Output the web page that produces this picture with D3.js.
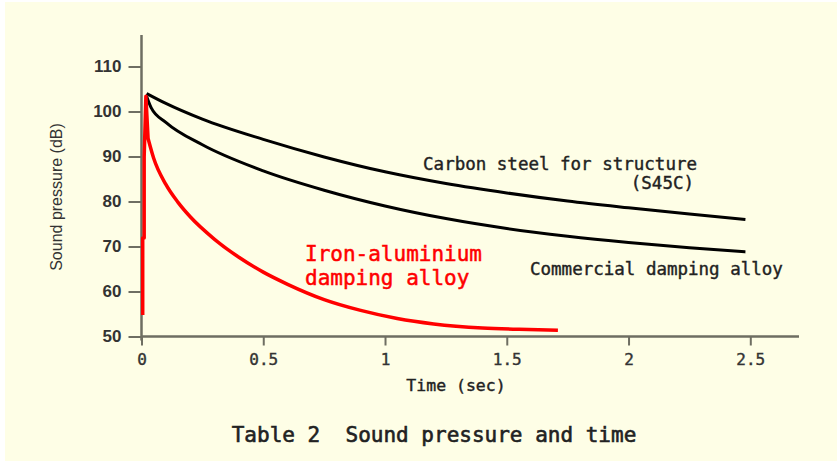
<!DOCTYPE html>
<html>
<head>
<meta charset="utf-8">
<script src="https://cdn.jsdelivr.net/npm/d3@7"></script>
<style>
  body { margin: 0; background: #fff; }
  svg { display: block; }
</style>
</head>
<body>
<svg id="chart" width="837" height="461"></svg>
<script>
// data: time (sec), sound pressure (dB)
var carbonT = [0.021, 0.1, 0.25, 0.5, 0.75, 1.0, 1.25, 1.5, 1.75, 2.0, 2.25, 2.48];
var carbonV = [104.0, 101.8, 98.3, 93.8, 89.9, 86.6, 84.0, 81.9, 80.1, 78.6, 77.2, 76.0];

var commT = [0.021, 0.04, 0.1, 0.25, 0.5, 0.75, 1.0, 1.25, 1.5, 1.75, 2.0, 2.25, 2.48];
var commV = [103.4, 100.8, 97.6, 92.6, 86.8, 82.5, 79.0, 76.2, 74.0, 72.3, 70.9, 69.7, 68.8];

// attack part (straight segments) then the decay
var ironRiseT = [0.005, 0.005, 0.011, 0.011, 0.018, 0.027];
var ironRiseV = [54.8, 71.9, 71.9, 90.0, 103.4, 94.0];
var ironT = [0.027, 0.05, 0.1, 0.15, 0.2, 0.3, 0.4, 0.5, 0.6, 0.75, 0.9, 1.05, 1.2, 1.4, 1.55, 1.71];
var ironV = [94.0, 89.6, 83.8, 79.8, 76.6, 71.6, 67.6, 64.3, 61.6, 58.2, 55.8, 54.0, 52.8, 51.9, 51.6, 51.4];

var xTicks = [0, 0.5, 1, 1.5, 2, 2.5];
var xTickLabels = ['0', '0.5', '1', '1.5', '2', '2.5'];
var yTicks = [50, 60, 70, 80, 90, 100, 110];

var svg = d3.select('#chart');

// cream paper
svg.append('rect')
    .attr('x', 5).attr('y', 2)
    .attr('width', 832).attr('height', 459)
    .attr('fill', '#fefee6');

var x = d3.scaleLinear().domain([0, 2.7]).range([141.5, 799]);
var y = d3.scaleLinear().domain([50, 117]).range([336.5, 35]);

var axisColor = '#6e6e62';

// axes lines
svg.append('line')
    .attr('x1', x(0)).attr('x2', x(0))
    .attr('y1', y(117)).attr('y2', y(50) + 4)
    .attr('stroke', axisColor).attr('stroke-width', 2.5);
svg.append('line')
    .attr('x1', x(0)).attr('x2', x(2.7))
    .attr('y1', y(50)).attr('y2', y(50))
    .attr('stroke', axisColor).attr('stroke-width', 2.5);

// y axis
var yAxis = svg.append('g')
    .attr('transform', 'translate(' + x(0) + ',0)')
    .call(d3.axisLeft(y).tickValues(yTicks).tickSize(13).tickPadding(7));
yAxis.select('.domain').remove();
yAxis.selectAll('line').attr('stroke', axisColor).attr('stroke-width', 2);
yAxis.selectAll('text')
    .attr('fill', '#333')
    .style('font-family', '"Liberation Sans", Arial, sans-serif')
    .style('font-size', '17px')
    .style('font-weight', 'bold');

// x axis
var xAxis = svg.append('g')
    .attr('transform', 'translate(0,' + y(50) + ')')
    .call(d3.axisBottom(x).tickValues(xTicks).tickSize(9).tickPadding(8)
        .tickFormat(function(d, i){ return xTickLabels[i]; }));
xAxis.select('.domain').remove();
xAxis.selectAll('line').attr('stroke', axisColor).attr('stroke-width', 2);
xAxis.selectAll('text')
    .attr('fill', '#333')
    .attr('stroke', '#333').attr('stroke-width', 0.4)
    .style('font-family', '"DejaVu Sans Mono", monospace')
    .style('font-size', '16px');

// curves
function pairs(ts, vs){
    return ts.map(function(t, i){ return [t, vs[i]]; });
}
var line = d3.line()
    .x(function(d){ return x(d[0]); })
    .y(function(d){ return y(d[1]); })
    .curve(d3.curveMonotoneX);
var lineLin = d3.line()
    .x(function(d){ return x(d[0]); })
    .y(function(d){ return y(d[1]); });

svg.append('path')
    .attr('d', line(pairs(carbonT, carbonV)))
    .attr('fill', 'none').attr('stroke', '#000').attr('stroke-width', 3);
svg.append('path')
    .attr('d', line(pairs(commT, commV)))
    .attr('fill', 'none').attr('stroke', '#000').attr('stroke-width', 3);

// red: sharp attack then decay
svg.append('path')
    .attr('d', lineLin(pairs(ironRiseT, ironRiseV)) + line(pairs(ironT, ironV)).replace(/^M/, 'L'))
    .attr('fill', 'none').attr('stroke', '#ff0000').attr('stroke-width', 3.5)
    .attr('stroke-linejoin', 'round');

// labels
var mono = '"DejaVu Sans Mono", monospace';
function label(txt, px, py, size, color, anchor, weight){
    svg.append('text')
        .attr('x', px).attr('y', py)
        .attr('text-anchor', anchor || 'start')
        .attr('fill', color)
        .attr('stroke', color).attr('stroke-width', weight || 0.4)
        .style('font-family', mono)
        .style('font-size', size + 'px')
        .style('white-space', 'pre')
        .text(txt);
}
label('Carbon steel for structure', 697, 170, 17.5, '#222', 'end');
label('(S45C)', 694, 189, 17.5, '#222', 'end');
label('Commercial damping alloy', 530, 275, 17.5, '#222');
label('Iron-aluminium', 305, 261, 21, '#ff0000', 'start', 0.5);
label('damping alloy', 305, 285, 21, '#ff0000', 'start', 0.5);

label('Time (sec)', 456, 391, 16.5, '#222', 'middle');
label('Table 2  Sound pressure and time', 434, 442, 21, '#222', 'middle', 0.6);

svg.append('text')
    .attr('transform', 'translate(62,197) rotate(-90)')
    .attr('text-anchor', 'middle')
    .attr('fill', '#333')
    .style('font-family', '"Liberation Sans", Arial, sans-serif')
    .style('font-size', '16px')
    .text('Sound pressure (dB)');
</script>
</body>
</html>
